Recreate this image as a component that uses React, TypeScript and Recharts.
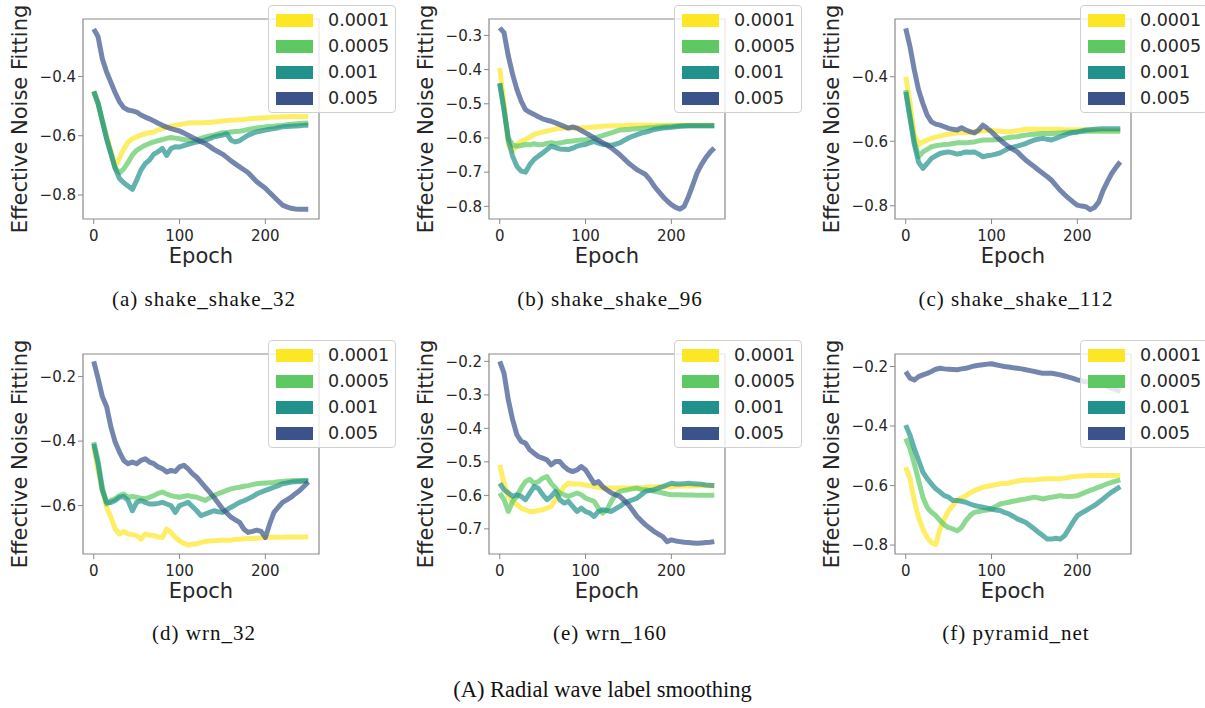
import React from 'react';
import { LineChart, Line, XAxis, YAxis, ReferenceArea, Legend } from 'recharts';

// epochs sampled every 5
const EPOCHS = [
  0, 5, 10, 15, 20, 25, 30, 35, 40, 45,
  50, 55, 60, 65, 70, 75, 80, 85, 90, 95,
  100, 105, 110, 115, 120, 125, 130, 135, 140, 145,
  150, 155, 160, 165, 170, 175, 180, 185, 190, 195,
  200, 205, 210, 215, 220, 225, 230, 235, 240, 245,
  250,
];

const RATES = ['0.0001', '0.0005', '0.001', '0.005'];
const COLORS = ['#fde725', '#5ec962', '#21918c', '#3b528b'];

// (a) shake_shake_32
const A_Y = [
  -0.45, -0.49, -0.55, -0.6, -0.65, -0.705, -0.675, -0.645, -0.622, -0.61,
  -0.604, -0.598, -0.593, -0.59, -0.587, -0.58, -0.576, -0.572, -0.568, -0.565,
  -0.562, -0.56, -0.557, -0.556, -0.556, -0.556, -0.555, -0.555, -0.554, -0.552,
  -0.55, -0.549, -0.548, -0.547, -0.546, -0.545, -0.543, -0.542, -0.541, -0.54,
  -0.539, -0.538, -0.537, -0.537, -0.536, -0.536, -0.535, -0.535, -0.535, -0.535,
  -0.535,
];
const A_G = [
  -0.45, -0.49, -0.55, -0.61, -0.66, -0.71, -0.725, -0.712, -0.69, -0.665,
  -0.649, -0.64, -0.632, -0.626, -0.621, -0.617, -0.613, -0.609, -0.606, -0.608,
  -0.61, -0.613, -0.615, -0.617, -0.614, -0.609, -0.604, -0.601, -0.598, -0.594,
  -0.59, -0.589, -0.587, -0.586, -0.585, -0.582, -0.579, -0.576, -0.574, -0.572,
  -0.57, -0.569, -0.568, -0.566, -0.565, -0.563, -0.561, -0.56, -0.559, -0.558,
  -0.557,
];
const A_T = [
  -0.45, -0.49, -0.55, -0.61, -0.66, -0.71, -0.744, -0.759, -0.77, -0.781,
  -0.75, -0.716, -0.694, -0.682, -0.662, -0.654, -0.643, -0.666, -0.643, -0.637,
  -0.638, -0.633, -0.629, -0.625, -0.621, -0.618, -0.615, -0.61, -0.604, -0.601,
  -0.598, -0.593, -0.615, -0.621, -0.617, -0.607, -0.598, -0.592, -0.587, -0.584,
  -0.581, -0.578, -0.576, -0.573, -0.57, -0.569, -0.568, -0.567, -0.566, -0.565,
  -0.565,
];
const A_B = [
  -0.24, -0.265, -0.34, -0.385, -0.42, -0.455, -0.485, -0.505, -0.513, -0.516,
  -0.52, -0.53, -0.537, -0.543, -0.55, -0.558, -0.565, -0.571, -0.576, -0.58,
  -0.584, -0.591, -0.598, -0.606, -0.613, -0.62, -0.626, -0.636, -0.646, -0.654,
  -0.662, -0.673, -0.685, -0.695, -0.705, -0.715, -0.725, -0.74, -0.755, -0.766,
  -0.777, -0.792, -0.806, -0.82, -0.834, -0.84, -0.845, -0.847, -0.848, -0.848,
  -0.848,
];

// (b) shake_shake_96
const B_Y = [
  -0.395, -0.5, -0.62, -0.638, -0.62, -0.61, -0.605, -0.597, -0.59, -0.586,
  -0.583, -0.58, -0.577, -0.574, -0.572, -0.571, -0.571, -0.571, -0.571, -0.57,
  -0.57, -0.569, -0.568, -0.567, -0.566, -0.565, -0.565, -0.564, -0.564, -0.564,
  -0.563, -0.563, -0.563, -0.563, -0.563, -0.563, -0.563, -0.563, -0.563, -0.563,
  -0.563, -0.563, -0.563, -0.563, -0.563, -0.563, -0.563, -0.563, -0.563, -0.563,
  -0.563,
];
const B_G = [
  -0.44, -0.517, -0.6, -0.62, -0.624, -0.622, -0.619, -0.62, -0.617, -0.62,
  -0.619, -0.616, -0.614, -0.616, -0.615, -0.612, -0.61, -0.609, -0.607, -0.606,
  -0.605, -0.603, -0.6, -0.597, -0.593, -0.589, -0.585, -0.581, -0.577, -0.576,
  -0.575, -0.574, -0.573, -0.572, -0.571, -0.57, -0.569, -0.568, -0.567, -0.566,
  -0.566, -0.565, -0.564, -0.564, -0.564, -0.564, -0.564, -0.564, -0.564, -0.564,
  -0.564,
];
const B_T = [
  -0.44, -0.517, -0.605, -0.653, -0.683, -0.697, -0.7, -0.678, -0.663, -0.653,
  -0.644, -0.634, -0.624, -0.628, -0.632, -0.633, -0.634, -0.63, -0.624, -0.621,
  -0.619, -0.614, -0.61, -0.615, -0.619, -0.62, -0.622, -0.618, -0.614, -0.607,
  -0.6, -0.595, -0.59, -0.586, -0.583, -0.579, -0.575, -0.573, -0.571, -0.57,
  -0.569, -0.567, -0.566, -0.565, -0.564, -0.564, -0.564, -0.564, -0.564, -0.564,
  -0.564,
];
const B_B = [
  -0.278, -0.292, -0.36, -0.414, -0.458, -0.492, -0.517, -0.525, -0.531, -0.538,
  -0.544, -0.548, -0.551, -0.556, -0.561, -0.566, -0.571, -0.568, -0.571, -0.578,
  -0.585, -0.592, -0.6, -0.607, -0.614, -0.621, -0.629, -0.639, -0.649, -0.661,
  -0.673, -0.683, -0.693, -0.7, -0.707, -0.722, -0.741, -0.756, -0.771, -0.784,
  -0.795, -0.803, -0.808, -0.8, -0.771, -0.737, -0.702, -0.678, -0.658, -0.642,
  -0.629,
];

// (c) shake_shake_112
const C_Y = [
  -0.4, -0.48, -0.58, -0.61, -0.602, -0.596, -0.591, -0.587, -0.584, -0.581,
  -0.578, -0.576, -0.574, -0.574, -0.574, -0.572, -0.571, -0.569, -0.568, -0.567,
  -0.567, -0.568, -0.569, -0.57, -0.571, -0.569, -0.567, -0.565, -0.563, -0.563,
  -0.562, -0.563, -0.563, -0.563, -0.563, -0.563, -0.563, -0.564, -0.564, -0.564,
  -0.564, -0.564, -0.565, -0.565, -0.565, -0.565, -0.566, -0.566, -0.566, -0.566,
  -0.566,
];
const C_G = [
  -0.441, -0.52, -0.6, -0.648, -0.633, -0.625, -0.617, -0.614, -0.612, -0.61,
  -0.609, -0.607, -0.605, -0.605, -0.605, -0.603, -0.602, -0.599, -0.596, -0.596,
  -0.596, -0.595, -0.594, -0.591, -0.588, -0.587, -0.586, -0.583, -0.581, -0.579,
  -0.578, -0.577, -0.576, -0.576, -0.576, -0.575, -0.574, -0.573, -0.572, -0.571,
  -0.571, -0.57, -0.569, -0.569, -0.569, -0.569, -0.569, -0.569, -0.569, -0.569,
  -0.569,
];
const C_T = [
  -0.447, -0.53, -0.61, -0.665, -0.684, -0.669, -0.653, -0.645, -0.638, -0.635,
  -0.633, -0.636, -0.64, -0.637, -0.633, -0.634, -0.633, -0.64, -0.648, -0.645,
  -0.643, -0.64, -0.636, -0.629, -0.622, -0.618, -0.615, -0.611, -0.607, -0.601,
  -0.596, -0.593, -0.591, -0.594, -0.596, -0.591, -0.586, -0.581, -0.576, -0.573,
  -0.571, -0.568, -0.565, -0.564, -0.563, -0.562, -0.561, -0.561, -0.561, -0.561,
  -0.561,
];
const C_B = [
  -0.25, -0.307, -0.379, -0.441, -0.483, -0.519, -0.54, -0.547, -0.55, -0.555,
  -0.56, -0.563, -0.565, -0.558, -0.565, -0.57, -0.574, -0.565, -0.55, -0.56,
  -0.571, -0.584, -0.596, -0.607, -0.617, -0.625, -0.633, -0.646, -0.659, -0.669,
  -0.679, -0.69, -0.7, -0.71, -0.721, -0.737, -0.752, -0.765, -0.777, -0.788,
  -0.798, -0.801, -0.803, -0.812, -0.805, -0.788, -0.752, -0.725, -0.7, -0.681,
  -0.664,
];

// (d) wrn_32
const D_Y = [
  -0.418, -0.491, -0.553, -0.605, -0.636, -0.673, -0.688, -0.68, -0.688, -0.69,
  -0.693, -0.704, -0.688, -0.692, -0.693, -0.697, -0.699, -0.673, -0.683, -0.698,
  -0.709, -0.717, -0.722, -0.72, -0.718, -0.714, -0.711, -0.71, -0.709, -0.708,
  -0.707, -0.707, -0.707, -0.705, -0.704, -0.703, -0.702, -0.702, -0.701, -0.7,
  -0.699, -0.698, -0.698, -0.698, -0.698, -0.697, -0.697, -0.697, -0.697, -0.697,
  -0.697,
];
const D_G = [
  -0.403, -0.46, -0.543, -0.595, -0.584, -0.579, -0.569, -0.564, -0.574, -0.572,
  -0.574, -0.577, -0.579, -0.574, -0.569, -0.562, -0.558, -0.564, -0.569, -0.572,
  -0.574, -0.571, -0.569, -0.572, -0.574, -0.579, -0.584, -0.576, -0.569, -0.563,
  -0.558, -0.553, -0.548, -0.545, -0.543, -0.54, -0.538, -0.535, -0.532, -0.531,
  -0.53, -0.529, -0.528, -0.526, -0.525, -0.524, -0.523, -0.522, -0.522, -0.522,
  -0.522,
];
const D_T = [
  -0.408, -0.47, -0.553, -0.59, -0.59, -0.584, -0.574, -0.572, -0.584, -0.616,
  -0.59, -0.584, -0.59, -0.595, -0.595, -0.593, -0.59, -0.595, -0.6, -0.621,
  -0.6, -0.595, -0.59, -0.603, -0.616, -0.631, -0.626, -0.621, -0.616, -0.619,
  -0.621, -0.613, -0.605, -0.598, -0.59, -0.585, -0.579, -0.572, -0.564, -0.558,
  -0.553, -0.548, -0.543, -0.538, -0.532, -0.53, -0.527, -0.526, -0.525, -0.524,
  -0.524,
];
const D_B = [
  -0.153, -0.205, -0.262, -0.293, -0.356, -0.403, -0.434, -0.46, -0.47, -0.465,
  -0.47, -0.46, -0.455, -0.465, -0.47, -0.48, -0.486, -0.496, -0.491, -0.494,
  -0.48, -0.475, -0.486, -0.501, -0.512, -0.527, -0.543, -0.558, -0.574, -0.592,
  -0.61, -0.623, -0.636, -0.644, -0.652, -0.673, -0.683, -0.68, -0.676, -0.68,
  -0.699, -0.657, -0.621, -0.605, -0.59, -0.582, -0.574, -0.563, -0.553, -0.54,
  -0.527,
];

// (e) wrn_160
const E_Y = [
  -0.509, -0.564, -0.603, -0.618, -0.628, -0.638, -0.643, -0.648, -0.648, -0.645,
  -0.643, -0.638, -0.633, -0.613, -0.593, -0.574, -0.564, -0.566, -0.566, -0.567,
  -0.569, -0.571, -0.574, -0.576, -0.578, -0.578, -0.578, -0.578, -0.578, -0.578,
  -0.578, -0.578, -0.578, -0.577, -0.576, -0.575, -0.574, -0.574, -0.574, -0.574,
  -0.574, -0.572, -0.572, -0.572, -0.572, -0.572, -0.571, -0.571, -0.571, -0.571,
  -0.571,
];
const E_G = [
  -0.593, -0.613, -0.648, -0.618, -0.603, -0.578, -0.559, -0.552, -0.564, -0.559,
  -0.549, -0.544, -0.564, -0.578, -0.593, -0.598, -0.603, -0.598, -0.593, -0.598,
  -0.608, -0.613, -0.618, -0.638, -0.653, -0.643, -0.618, -0.598, -0.588, -0.585,
  -0.583, -0.58, -0.578, -0.583, -0.583, -0.585, -0.588, -0.59, -0.593, -0.596,
  -0.598, -0.598, -0.598, -0.599, -0.599, -0.599, -0.6, -0.6, -0.6, -0.6,
  -0.6,
];
const E_T = [
  -0.564, -0.583, -0.593, -0.603, -0.598, -0.603, -0.613, -0.593, -0.574, -0.579,
  -0.598, -0.613, -0.603, -0.588, -0.613, -0.623, -0.618, -0.633, -0.648, -0.638,
  -0.648, -0.653, -0.663, -0.648, -0.643, -0.645, -0.648, -0.64, -0.633, -0.623,
  -0.618, -0.613, -0.608, -0.598, -0.588, -0.585, -0.583, -0.578, -0.574, -0.569,
  -0.564, -0.566, -0.566, -0.565, -0.564, -0.565, -0.566, -0.567, -0.569, -0.57,
  -0.571,
];
const E_B = [
  -0.2, -0.235, -0.315, -0.374, -0.419, -0.439, -0.444, -0.464, -0.474, -0.484,
  -0.489, -0.494, -0.509, -0.499, -0.499, -0.514, -0.524, -0.529, -0.524, -0.514,
  -0.524, -0.544, -0.564, -0.559, -0.574, -0.584, -0.593, -0.598, -0.603, -0.615,
  -0.628, -0.645, -0.663, -0.676, -0.688, -0.698, -0.708, -0.716, -0.723, -0.738,
  -0.733, -0.736, -0.738, -0.74, -0.741, -0.742, -0.743, -0.742, -0.741, -0.74,
  -0.738,
];

// (f) pyramid_net
const F_Y = [
  -0.538, -0.577, -0.65, -0.707, -0.746, -0.774, -0.792, -0.798, -0.746, -0.712,
  -0.684, -0.667, -0.65, -0.642, -0.634, -0.625, -0.617, -0.611, -0.606, -0.603,
  -0.6, -0.597, -0.594, -0.593, -0.592, -0.588, -0.585, -0.583, -0.581, -0.581,
  -0.581, -0.579, -0.578, -0.577, -0.577, -0.577, -0.577, -0.575, -0.572, -0.57,
  -0.569, -0.568, -0.567, -0.566, -0.566, -0.566, -0.566, -0.566, -0.566, -0.566,
  -0.566,
];
const F_G = [
  -0.442, -0.476, -0.527, -0.583, -0.639, -0.673, -0.69, -0.701, -0.718, -0.732,
  -0.741, -0.746, -0.752, -0.741, -0.718, -0.701, -0.69, -0.687, -0.684, -0.682,
  -0.679, -0.67, -0.662, -0.659, -0.656, -0.653, -0.65, -0.647, -0.645, -0.642,
  -0.639, -0.642, -0.645, -0.642, -0.639, -0.637, -0.634, -0.636, -0.637, -0.636,
  -0.634, -0.628, -0.622, -0.616, -0.611, -0.605, -0.6, -0.594, -0.589, -0.585,
  -0.581,
];
const F_T = [
  -0.397, -0.431, -0.476, -0.515, -0.555, -0.577, -0.594, -0.611, -0.622, -0.634,
  -0.639, -0.65, -0.65, -0.653, -0.656, -0.662, -0.667, -0.67, -0.673, -0.676,
  -0.679, -0.682, -0.684, -0.69, -0.695, -0.703, -0.712, -0.718, -0.724, -0.735,
  -0.746, -0.758, -0.769, -0.78, -0.78, -0.777, -0.78, -0.769, -0.746, -0.722,
  -0.701, -0.692, -0.684, -0.675, -0.667, -0.656, -0.645, -0.633, -0.622, -0.613,
  -0.604,
];
const F_B = [
  -0.217, -0.239, -0.245, -0.234, -0.228, -0.223, -0.217, -0.209, -0.206, -0.208,
  -0.209, -0.21, -0.211, -0.208, -0.206, -0.202, -0.198, -0.196, -0.194, -0.192,
  -0.191, -0.194, -0.197, -0.2, -0.202, -0.204, -0.206, -0.208, -0.211, -0.214,
  -0.217, -0.22, -0.223, -0.223, -0.223, -0.225, -0.228, -0.232, -0.236, -0.24,
  -0.245, -0.248, -0.251, -0.252, -0.254, -0.258, -0.262, -0.267, -0.273, -0.278,
  -0.284,
];

const X_DOMAIN = [-12.5, 262.5];
const X_TICKS = [0, 100, 200];

const PANELS = [
  { caption: '(a) shake_shake_32', col: 0, row: 0, series: [A_Y, A_G, A_T, A_B], yDomain: [-0.881, -0.206], yTicks: [-0.8, -0.6, -0.4] },
  { caption: '(b) shake_shake_96', col: 1, row: 0, series: [B_Y, B_G, B_T, B_B], yDomain: [-0.837, -0.252], yTicks: [-0.8, -0.7, -0.6, -0.5, -0.4, -0.3] },
  { caption: '(c) shake_shake_112', col: 2, row: 0, series: [C_Y, C_G, C_T, C_B], yDomain: [-0.841, -0.221], yTicks: [-0.8, -0.6, -0.4] },
  { caption: '(d) wrn_32', col: 0, row: 1, series: [D_Y, D_G, D_T, D_B], yDomain: [-0.75, -0.13], yTicks: [-0.6, -0.4, -0.2] },
  { caption: '(e) wrn_160', col: 1, row: 1, series: [E_Y, E_G, E_T, E_B], yDomain: [-0.775, -0.178], yTicks: [-0.7, -0.6, -0.5, -0.4, -0.3, -0.2] },
  { caption: '(f) pyramid_net', col: 2, row: 1, series: [F_Y, F_G, F_T, F_B], yDomain: [-0.83, -0.158], yTicks: [-0.8, -0.6, -0.4, -0.2] },
];

// layout
const COL_LEFT = [0, 406, 812];
const ROW_TOP = [0, 335];
const CAPTION_Y = [299, 633];
const CHART_W = 400;
const CHART_H = 275;
const PLOT_LEFT = 83;
const PLOT_TOP = 19;
const PLOT_W = 236;
const PLOT_H = 200;

const SANS = '"DejaVu Sans", sans-serif';
const INK = '#262626';
const SPINE = '#8a8a8a';
const TICK = { fontSize: 15, fill: INK, fontFamily: SANS };

const fmt = (v: number) => (v < 0 ? '\u2212' : '') + Math.abs(v).toFixed(1);

function LegendBox({ payload }: any) {
  return (
    <div
      style={{
        width: 128,
        height: 108,
        boxSizing: 'border-box',
        background: 'rgba(255,255,255,0.8)',
        border: '1px solid #d0d0d0',
        borderRadius: 4,
        paddingTop: 1,
        fontFamily: SANS,
      }}
    >
      {(payload || []).map((p: any) => (
        <div key={p.value} style={{ display: 'flex', alignItems: 'center', height: 26 }}>
          <span style={{ display: 'inline-block', marginLeft: 7, width: 37, height: 13, background: p.color }} />
          <span style={{ marginLeft: 15, fontSize: 17.5, color: INK, lineHeight: '26px' }}>{p.value}</span>
        </div>
      ))}
    </div>
  );
}

function Panel({ panel }: { panel: (typeof PANELS)[number] }) {
  const data = EPOCHS.map((epoch, i) => {
    const row: Record<string, number> = { epoch };
    panel.series.forEach((s, k) => (row['s' + k] = s[i]));
    return row;
  });
  const [y0, y1] = panel.yDomain;

  return (
    <div style={{ position: 'absolute', left: COL_LEFT[panel.col], top: ROW_TOP[panel.row] }}>
      <LineChart
        width={CHART_W}
        height={CHART_H}
        data={data}
        margin={{ top: PLOT_TOP, right: CHART_W - PLOT_LEFT - PLOT_W, left: 0, bottom: 0 }}
      >
        <XAxis
          dataKey="epoch"
          type="number"
          domain={X_DOMAIN}
          ticks={X_TICKS}
          allowDataOverflow
          axisLine={false}
          tickLine={{ stroke: SPINE }}
          tickSize={5}
          tickMargin={6}
          tick={TICK}
          height={CHART_H - PLOT_TOP - PLOT_H}
          label={(props: any) => {
            const vb = props.viewBox;
            return (
              <text x={vb.x + vb.width / 2} y={vb.y + 44} textAnchor="middle" fontSize={21} fontFamily={SANS} fill={INK}>
                Epoch
              </text>
            );
          }}
        />
        <YAxis
          type="number"
          domain={[y0, y1]}
          ticks={panel.yTicks}
          allowDataOverflow
          axisLine={false}
          tickLine={{ stroke: SPINE }}
          tickSize={5}
          tickMargin={2}
          tick={TICK}
          tickFormatter={fmt}
          width={PLOT_LEFT}
          label={(props: any) => {
            const vb = props.viewBox;
            const x = vb.x + 20;
            const y = vb.y + vb.height / 2;
            return (
              <text
                x={x}
                y={y}
                transform={`rotate(-90 ${x} ${y})`}
                textAnchor="middle"
                dominantBaseline="central"
                fontSize={21}
                fontFamily={SANS}
                fill={INK}
              >
                Effective Noise Fitting
              </text>
            );
          }}
        />
        {RATES.map((r, k) => (
          <Line
            key={r}
            dataKey={'s' + k}
            name={r}
            type="linear"
            stroke={COLORS[k]}
            strokeWidth={5}
            strokeOpacity={0.7}
            strokeLinejoin="round"
            dot={false}
            activeDot={false}
            isAnimationActive={false}
          />
        ))}
        <ReferenceArea x1={X_DOMAIN[0]} x2={X_DOMAIN[1]} y1={y0} y2={y1} fill="none" stroke={SPINE} strokeWidth={1.2} ifOverflow="visible" />
        <Legend
          layout="vertical"
          align="center"
          verticalAlign="middle"
          content={<LegendBox />}
          wrapperStyle={{ left: PLOT_LEFT + PLOT_W - 51, top: PLOT_TOP - 14, width: 128, height: 108 }}
        />
      </LineChart>
    </div>
  );
}

export default function App() {
  return (
    <div
      style={{
        position: 'fixed',
        left: 0,
        top: 0,
        width: 1205,
        height: 708,
        overflow: 'hidden',
        background: '#ffffff',
      }}
    >
      {PANELS.map((p) => (
        <Panel key={p.caption} panel={p} />
      ))}
      {PANELS.map((p) => (
        <div
          key={'cap' + p.caption}
          style={{
            position: 'absolute',
            left: COL_LEFT[p.col] + 204 - 150,
            top: CAPTION_Y[p.row] - 15,
            width: 300,
            height: 30,
            lineHeight: '30px',
            textAlign: 'center',
            fontFamily: '"Liberation Serif", serif',
            fontSize: 21,
            letterSpacing: 1,
            color: '#111',
          }}
        >
          {p.caption}
        </div>
      ))}
      <div
        style={{
          position: 'absolute',
          left: 0,
          top: 675,
          width: 1205,
          height: 30,
          lineHeight: '30px',
          textAlign: 'center',
          fontFamily: '"Liberation Serif", serif',
          fontSize: 22.5,
          color: '#111',
        }}
      >
        (A) Radial wave label smoothing
      </div>
    </div>
  );
}
